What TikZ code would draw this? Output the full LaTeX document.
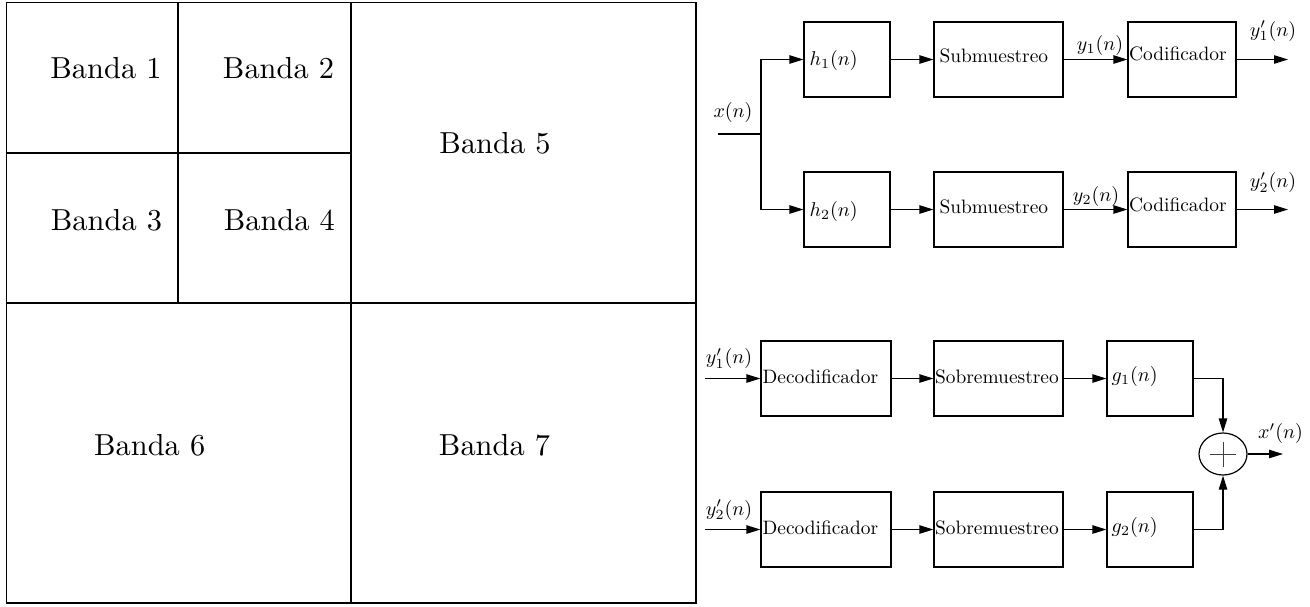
\documentclass[tikz,border=0pt]{standalone}
\usetikzlibrary{arrows.meta,shapes.geometric}
\begin{document}
\begin{tikzpicture}[x=0.5pt,y=-0.5pt,line width=0.6pt,
  blk/.style={draw,rectangle,minimum height=37.5pt,inner sep=0pt},
  lab/.style={inner sep=0pt,anchor=base west,font=\fontsize{9.7}{11}\selectfont},
  sig/.style={inner sep=0pt,anchor=base,font=\fontsize{9.7}{11}\selectfont},
  band/.style={inner sep=0pt,anchor=base,font=\fontsize{10}{12}\selectfont,scale=1.52},
  arr/.style={-{Triangle[length=7pt,width=4.2pt]}}]
\useasboundingbox (0,0) rectangle (1310,606);
% ---- band partition ----
\draw (6.5,2.7) rectangle (696,603);
\draw (178,2.7) -- (178,303);
\draw (6.5,153) -- (351,153);
\draw (351,2.7) -- (351,603);
\draw (6.5,303) -- (696,303);
\node[band] (b1) at (106,78.3) {Banda 1};
\node[band] (b2) at (278.5,78.3) {Banda 2};
\node[band] (b3) at (106.5,230) {Banda 3};
\node[band] (b4) at (279.3,230) {Banda 4};
\node[band] (b5) at (495,153.3) {Banda 5};
\node[band] (b6) at (149.7,455) {Banda 6};
\node[band] (b7) at (494.5,455) {Banda 7};
% ---- analysis ----
\node[blk,minimum width=43pt] (h1) at (847,59.5) {};
\node[blk,minimum width=64.5pt] (s1) at (998.5,59.5) {};
\node[blk,minimum width=54pt] (c1) at (1182,59.5) {};
\node[blk,minimum width=43pt] (h2) at (847,209.5) {};
\node[blk,minimum width=64.5pt] (s2) at (998.5,209.5) {};
\node[blk,minimum width=54pt] (c2) at (1182,209.5) {};
\node[lab] (th1) at (809,65) {$h_1(n)$};
\node[lab] (ts1) at (939,62.3) {Submuestreo};
\node[lab] (tc1) at (1128.5,60) {Codificador};
\node[lab] (th2) at (809,216) {$h_2(n)$};
\node[lab] (ts2) at (939,213.3) {Submuestreo};
\node[lab] (tc2) at (1128.5,211) {Codificador};
\coordinate (xin) at (718,134);
\coordinate (split) at (761,134);
\coordinate (out1) at (1288,59.5);
\coordinate (out2) at (1288,209.5);
\draw (xin) -- (split);
\draw[arr] (split) |- (h1.west);
\draw[arr] (split) |- (h2.west);
\draw[arr] (h1) -- (s1);
\draw[arr] (s1) -- (c1);
\draw[arr] (c1) -- (out1);
\draw[arr] (h2) -- (s2);
\draw[arr] (s2) -- (c2);
\draw[arr] (c2) -- (out2);
\node[sig] (lx) at (733,117) {$x(n)$};
\node[sig] (ly1) at (1100,50.5) {$y_1(n)$};
\node[sig] (ly2) at (1096,201) {$y_2(n)$};
\node[sig] (lo1) at (1273,36) {$y'_1(n)$};
\node[sig] (lo2) at (1273,187.5) {$y'_2(n)$};
% ---- synthesis ----
\node[blk,minimum width=65pt] (d1) at (826,378.5) {};
\node[blk,minimum width=64.5pt] (u1) at (998.5,378.5) {};
\node[blk,minimum width=43pt] (g1) at (1150,378.5) {};
\node[blk,minimum width=65pt] (d2) at (826,529.5) {};
\node[blk,minimum width=64.5pt] (u2) at (998.5,529.5) {};
\node[blk,minimum width=43pt] (g2) at (1150,529.5) {};
\node[lab] (td1) at (762,383.3) {Decodificador};
\node[lab] (tu1) at (934.5,383.3) {Sobremuestreo};
\node[lab] (tg1) at (1111,381.7) {$g_1(n)$};
\node[lab] (td2) at (762,534.3) {Decodificador};
\node[lab] (tu2) at (934.5,534.3) {Sobremuestreo};
\node[lab] (tg2) at (1111,532.7) {$g_2(n)$};
\node[draw,ellipse,minimum width=24pt,minimum height=21pt,inner sep=0pt] (sum) at (1223,454) {};
\draw[line width=0.45pt,black!75,shift={(sum.center)}] (-13,0) -- (13,0) (0,-12.5) -- (0,12.5);
\coordinate (in1) at (705,378.5);
\coordinate (in2) at (705,529.5);
\coordinate (xout) at (1283,454);
\draw[arr] (in1) -- (d1);
\draw[arr] (d1) -- (u1);
\draw[arr] (u1) -- (g1);
\draw[arr] (in2) -- (d2);
\draw[arr] (d2) -- (u2);
\draw[arr] (u2) -- (g2);
\draw[arr] (g1.east) -| (sum.north);
\draw[arr] (g2.east) -| (sum.south);
\draw[arr] (sum) -- (xout);
\node[sig] (li1) at (729,363.3) {$y'_1(n)$};
\node[sig] (li2) at (729,515) {$y'_2(n)$};
\node[sig] (lxo) at (1280.5,438.3) {$x'(n)$};
\end{tikzpicture}
\end{document}
